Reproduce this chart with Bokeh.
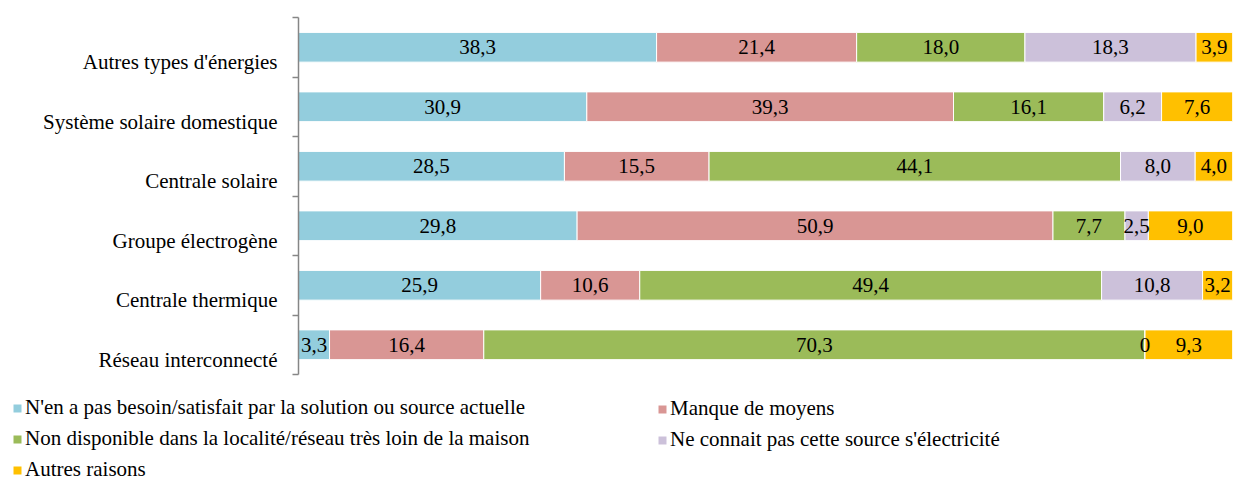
from bokeh.plotting import figure
from bokeh.models import ColumnDataSource, Range1d, FixedTicker, Legend, LegendItem
from bokeh.core.properties import value
from bokeh.embed import file_html
from bokeh.resources import INLINE

# categories listed bottom to top
categories = ["Réseau interconnecté", "Centrale thermique", "Groupe électrogène",
              "Centrale solaire", "Système solaire domestique", "Autres types d'énergies"]
series_names = ["N'en a pas besoin/satisfait par la solution ou source actuelle",
                "Manque de moyens",
                "Non disponible dans la localité/réseau très loin de la maison",
                "Ne connait pas cette source s'électricité",
                "Autres raisons"]
besoin = [3.3, 25.9, 29.8, 28.5, 30.9, 38.3]
moyens = [16.4, 10.6, 50.9, 15.5, 39.3, 21.4]
non_dispo = [70.3, 49.4, 7.7, 44.1, 16.1, 18.0]
ne_connait = [0.0, 10.8, 2.5, 8.0, 6.2, 18.3]
autres = [9.3, 3.2, 9.0, 4.0, 7.6, 3.9]
colors = ["#93CDDD", "#D99694", "#9BBB59", "#CCC1DA", "#FFC000"]

series = [besoin, moyens, non_dispo, ne_connait, autres]
FONT = "Liberation Serif"

# ---- main chart ----
p = figure(width=1234, height=380, output_backend="svg", toolbar_location=None,
           x_range=Range1d(0, 100), y_range=Range1d(0, 600),
           x_axis_location=None, min_border_left=298, min_border_right=2,
           min_border_top=17, min_border_bottom=6)
p.outline_line_color = None
p.xgrid.visible = False
p.ygrid.visible = False

rows = list(range(len(categories)))
totals = [sum(s[i] for s in series) for i in rows]
ycent = [100 * i + 50 for i in rows]

cum = [0.0] * len(rows)
sources = []
for vals, col in zip(series, colors):
    left = [cum[i] / totals[i] * 100 for i in rows]
    right = [(cum[i] + vals[i]) / totals[i] * 100 for i in rows]
    cum = [cum[i] + vals[i] for i in rows]
    labels = [("0" if v == 0 else f"{v:.1f}".replace(".", ",")) for v in vals]
    src = ColumnDataSource(dict(y=ycent, left=left, right=right,
                                mid=[(l + r) / 2 for l, r in zip(left, right)],
                                label=labels))
    p.hbar(y="y", left="left", right="right", height=50, source=src,
           fill_color=col, line_color="white", line_width=1)
    sources.append(src)

for src in sources:
    p.text(x="mid", y="y", text="label", source=src, text_align="center",
           text_baseline="middle", text_font=value(FONT), text_font_size="21px",
           text_color="black")

ax = p.yaxis[0]
label_pos = [100 * i + 25 for i in rows]
ax.ticker = FixedTicker(ticks=label_pos, minor_ticks=[100 * i for i in range(len(categories) + 1)])
ax.major_label_overrides = {lp: c for lp, c in zip(label_pos, categories)}
ax.major_tick_out = 0
ax.major_tick_in = 0
ax.minor_tick_out = 6
ax.minor_tick_in = 0
ax.axis_line_color = "#868686"
ax.axis_line_width = 1.5
ax.minor_tick_line_color = "#868686"
ax.minor_tick_line_width = 1.5
ax.major_label_standoff = 15
ax.major_label_text_font = FONT
ax.major_label_text_font_size = "21px"
ax.major_label_text_color = "black"

# ---- legend strip ----
p2 = figure(width=1234, height=97, output_backend="svg", toolbar_location=None,
            x_range=Range1d(0, 100), y_range=Range1d(5000, 5100),
            x_axis_location=None, y_axis_location=None,
            min_border_left=0, min_border_right=0, min_border_top=0, min_border_bottom=0)
p2.outline_line_color = None
p2.xgrid.visible = False
p2.ygrid.visible = False
leg_renderers = []
for src, col in zip(sources, colors):
    leg_renderers.append(p2.hbar(y="y", left="left", right="right", height=50, source=src,
                                 fill_color=col, line_color=None))

common = dict(glyph_width=10, glyph_height=10, label_standoff=3, label_height=24,
              spacing=6, padding=0, margin=0, border_line_color=None,
              background_fill_alpha=0, label_text_font=FONT, label_text_font_size="21px",
              label_text_color="black")
leg1 = Legend(items=[LegendItem(label=series_names[k], renderers=[leg_renderers[k]]) for k in (0, 2, 4)],
              location=(12, -5), **common)
leg2 = Legend(items=[LegendItem(label=series_names[k], renderers=[leg_renderers[k]]) for k in (1, 3)],
              location=(657, 25), **common)
p2.add_layout(leg1)
p2.add_layout(leg2)

open("out.html", "w").write(file_html([p, p2], INLINE))
